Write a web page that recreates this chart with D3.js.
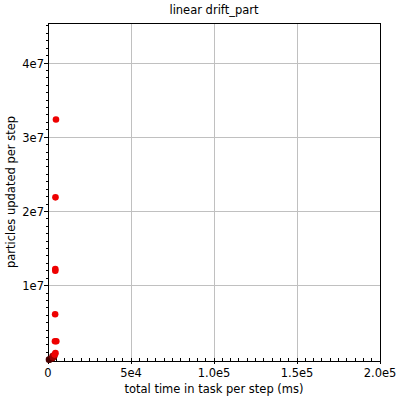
<!DOCTYPE html>
<html><head><meta charset="utf-8">
<script src="https://cdn.jsdelivr.net/npm/d3@7"></script>
<style>body{margin:0;background:#fff}svg{display:block}text{font-family:"DejaVu Sans",sans-serif;}</style>
</head><body><svg id="c" width="400" height="400"></svg>
<script>
const title = "linear drift_part";
const xLabel = "total time in task per step (ms)";
const yLabel = "particles updated per step";
const xTicks = [0, 5e4, 1e5, 1.5e5, 2e5];
const xTickLabels = ["0", "5e4", "1.0e5", "1.5e5", "2.0e5"];
const yTicks = [1e7, 2e7, 3e7, 4e7];
const yTickLabels = ["1e7", "2e7", "3e7", "4e7"];
// series A: bright red points
const timeA = [4800, 4500, 4400, 4400, 4300, 4200, 5000, 4500, 4000];
const partsA = [3.24e7, 2.19e7, 1.225e7, 1.2e7, 6.15e6, 2.5e6, 2.5e6, 9e5, 7e5];
// series B: darker points near origin
const timeB = [3800, 3400, 3000, 2800];
const partsB = [5e5, 4e5, 3e5, 5e5];
// series C: darkest points near origin
const timeC = [2500, 2000, 1500, 1000, 600];
const partsC = [2e5, 1.5e5, 1e5, 5e4, 2e4];

const svg = d3.select("#c");
const L = 48, R = 380, T = 23, B = 361;
const x = d3.scaleLinear().domain([0, 2e5]).range([L, R]);
const y = d3.scaleLinear().domain([-1.6e5, 4.54e7]).range([B, T]);

// grid
svg.append("g").selectAll("line").data(xTicks.slice(1, -1)).join("line")
  .attr("x1", d => x(d)).attr("x2", d => x(d)).attr("y1", T).attr("y2", B)
  .attr("stroke", "#c0c0c0").attr("stroke-width", 1).attr("shape-rendering", "crispEdges");
svg.append("g").selectAll("line").data(yTicks).join("line")
  .attr("x1", L).attr("x2", R).attr("y1", d => y(d)).attr("y2", d => y(d))
  .attr("stroke", "#c0c0c0").attr("stroke-width", 1).attr("shape-rendering", "crispEdges");

// minor ticks x (inside, upward) every 5e3
const xMinor = d3.range(0, 2e5 + 1, 5e3);
svg.append("g").selectAll("line").data(xMinor).join("line")
  .attr("x1", d => x(d)).attr("x2", d => x(d)).attr("y1", B).attr("y2", B - 3)
  .attr("stroke", "#000").attr("shape-rendering", "crispEdges");
// major x ticks
svg.append("g").selectAll("line").data(xTicks).join("line")
  .attr("x1", d => x(d)).attr("x2", d => x(d)).attr("y1", B - 3).attr("y2", B + 3)
  .attr("stroke", "#000").attr("shape-rendering", "crispEdges");
// minor y ticks (outside, leftward) every 1e6
const yMinor = d3.range(0, 4.54e7, 1e6);
svg.append("g").selectAll("line").data(yMinor).join("line")
  .attr("x1", L - 2).attr("x2", L).attr("y1", d => y(d)).attr("y2", d => y(d))
  .attr("stroke", "#000").attr("shape-rendering", "crispEdges");
svg.append("g").selectAll("line").data(yTicks).join("line")
  .attr("x1", L - 4).attr("x2", L).attr("y1", d => y(d)).attr("y2", d => y(d))
  .attr("stroke", "#000").attr("shape-rendering", "crispEdges");

// frame
svg.append("rect").attr("x", L).attr("y", T).attr("width", R - L).attr("height", B - T)
  .attr("fill", "none").attr("stroke", "#000").attr("shape-rendering", "crispEdges");

// tick labels
svg.append("g").selectAll("text").data(xTicks).join("text")
  .attr("x", d => x(d)).attr("y", B + 16).attr("text-anchor", "middle")
  .attr("font-size", 11.5).text((d, i) => xTickLabels[i]);
svg.append("g").selectAll("text").data(yTicks).join("text")
  .attr("x", L - 4).attr("y", d => y(d) + 4.5).attr("text-anchor", "end")
  .attr("font-size", 11.5).text((d, i) => yTickLabels[i]);

// titles
svg.append("text").attr("x", (L + R) / 2).attr("y", 14).attr("text-anchor", "middle")
  .attr("font-size", 11.5).text(title);
svg.append("text").attr("x", (L + R) / 2).attr("y", 393).attr("text-anchor", "middle")
  .attr("font-size", 11.5).text(xLabel);
svg.append("text").attr("transform", `translate(15,${(T + B) / 2}) rotate(-90)`)
  .attr("text-anchor", "middle").attr("font-size", 11.5).text(yLabel);

// points
const plot = svg.append("g");
function drawSeries(xs, ys, color) {
  plot.append("g").selectAll("circle").data(xs.map((v, i) => [v, ys[i]])).join("circle")
    .attr("cx", d => x(d[0])).attr("cy", d => y(d[1])).attr("r", 3.3)
    .attr("fill", color);
}
drawSeries(timeC, partsC, "#4a0000");
drawSeries(timeB, partsB, "#9a0000");
drawSeries(timeA, partsA, "#ee0000");
</script></body></html>
